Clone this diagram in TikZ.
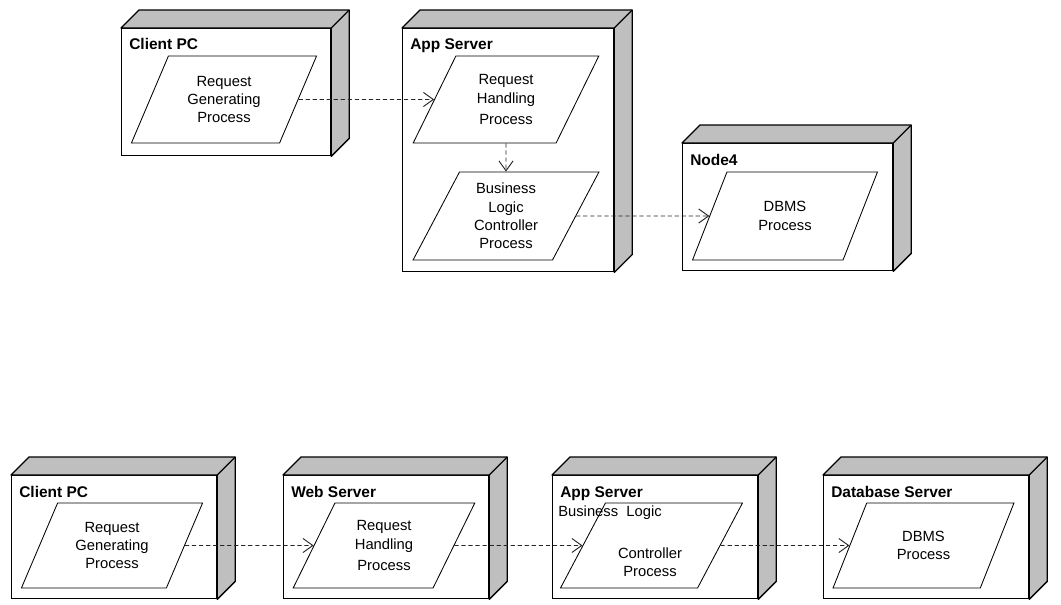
\documentclass[tikz,border=0pt]{standalone}
\usepackage{fontspec}
\setmainfont{Liberation Sans}
\usetikzlibrary{arrows.meta,shapes.geometric}

\begin{document}
\begin{tikzpicture}[
  x=0.025cm, y=-0.025cm,
  device/.style={draw, line width=0.9pt, fill=white, anchor=north west, minimum width=5.125cm, minimum height=3.075cm, inner sep=0pt},
  face/.style={draw, line width=0.9pt, fill=black!25, line join=round},
  title/.style={anchor=base west, inner sep=0pt, font=\fontsize{11}{13}\selectfont\bfseries},
  proc/.style={draw, trapezium, trapezium left angle=64, trapezium right angle=116, trapezium stretches, fill=white, align=center, minimum width=4.55cm, minimum height=2.125cm, line width=0.6pt, font=\fontsize{10.5}{13}\selectfont},
  plain/.style={inner sep=0pt, align=center, font=\fontsize{10.5}{13}\selectfont},
  arrow/.style={-{Straight Barb[length=7pt,width=10pt]}, dash pattern=on 3pt off 2pt, line width=0.65pt, black!85}
]
\useasboundingbox (0,0) rectangle (1061,605);

% first layout: three nodes
\node[device, minimum width=5.225cm, minimum height=3.175cm] (clienttop) at (121,28) {};
\node[device, minimum width=5.275cm, minimum height=6.075cm] (apptop) at (402,28) {};
\node[device, minimum width=5.25cm, minimum height=3.175cm] (node4) at (682,143) {};

% second layout: four tiers
\node[device] (clientbot) at (11,475) {};
\node[device] (webbot) at (283,475) {};
\node[device] (appbot) at (552,475) {};
\node[device] (dbbot) at (823,475) {};

% 3d faces
\foreach \n in {clienttop,apptop,node4,clientbot,webbot,appbot,dbbot} {
  \draw[face] (\n.north west) -- ++(18,-18) -- ([shift={(18,-18)}]\n.north east)
    -- ([shift={(18,-18)}]\n.south east) -- (\n.south east) -- (\n.north east) -- cycle;
  \draw[line width=0.9pt] (\n.north east) -- ++(18,-18);
}

\node[title] (clienttoptitle) at ([shift={(8,22)}]clienttop.north west) {Client PC};
\node[title] (apptoptitle) at ([shift={(8,22)}]apptop.north west) {App Server};
\node[title] (node4title) at ([shift={(8,22)}]node4.north west) {Node4};
\node[title] (clientbottitle) at ([shift={(8,22)}]clientbot.north west) {Client PC};
\node[title] (webbottitle) at ([shift={(8,22)}]webbot.north west) {Web Server};
\node[title] (appbottitle) at ([shift={(8,22)}]appbot.north west) {App Server};
\node[title] (dbbottitle) at ([shift={(8,22)}]dbbot.north west) {Database Server};

% processes, top
\node[proc, minimum width=4.65cm, minimum height=2.175cm] (reqgen) at (224,99.5) {Request\\Generating\\Process};
\node[proc, minimum width=4.65cm, minimum height=2.175cm] (reqhandle) at (506,99.5) {Request\\Handling\\[2pt]Process};
\node[proc, minimum width=4.65cm, minimum height=2.2cm] (bizlogic) at (506,216) {Business\\Logic\\Controller\\Process};
\node[proc, minimum width=4.65cm, minimum height=2.2cm] (dbms) at (785,216) {DBMS\\Process};

% processes, bottom
\node[proc] (reqgenb) at (112,545.5) {Request\\Generating\\Process};
\node[proc] (reqhandleb) at (384,545.5) {Request\\Handling\\[2pt]Process};
\node[proc] (bizlogicb) at (651.5,545.5) {};
\node[proc] (dbmsb) at (923.5,545.5) {DBMS\\Process};
\node[plain, anchor=base west] (bizlabel) at ([shift={(6,41)}]appbot.north west) {Business\ \ Logic};
\node[plain] (ctrllabel) at (650,562) {Controller\\Process};

\draw[arrow] (reqgen) -- (reqhandle);
\draw[arrow] (reqhandle) -- (bizlogic);
\draw[arrow] (bizlogic) -- (dbms);

\draw[arrow] (reqgenb) -- (reqhandleb);
\draw[arrow] (reqhandleb) -- (bizlogicb);
\draw[arrow] (bizlogicb) -- (dbmsb);
\end{tikzpicture}
\end{document}
